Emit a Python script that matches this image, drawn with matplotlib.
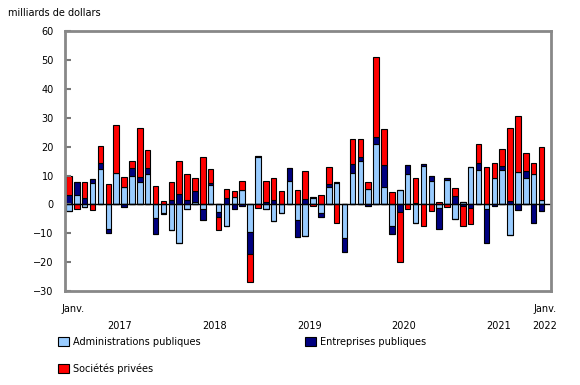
import numpy as np
import matplotlib.pyplot as plt
from matplotlib.patches import Patch

# monthly values, Jan 2017 to Jan 2022 (billions of dollars)
admin = [-2.2, 3.4, -0.8, 7.4, 12.4, -8.4, 10.8, 6.0, 9.8, 7.7, 10.4,
         -4.6, -2.8, -8.9, -13.5, -1.7, 0.9, -1.5, 6.7, -2.7, -7.5,
         2.7, 5.1, -9.4, 16.6, -1.6, -5.7, -3.0, 8.2, -5.5, -10.9,
         2.2, -2.8, 6.2, 7.4, -11.7, 10.9, 14.9, 5.3, 20.8, 6.1,
         -7.5, 4.9, 10.7, -6.6, 13.3, 8.1, -1.2, 8.3, -4.9, 0.9,
         13.1, 11.8, -1.5, 9.2, 11.8, -10.6, 11.3, 9.2, 10.4, 1.6]
entreprises = [3.1, 4.3, 2.2, 1.4, 2.0, -1.4, 0.0, -0.9, 2.9, 1.9, 2.1,
               -5.8, -0.5, 1.4, 3.7, 1.7, 3.9, -3.9, 0.8, -1.5, 2.4,
               -1.6, -0.4, -7.7, 0.3, 0.8, 1.6, 0.0, 4.4, -5.7, 2.0,
               0.3, -1.7, 0.9, 0.2, -4.9, 3.2, 1.6, -0.7, 2.7, 7.5,
               -2.9, -2.5, 3.1, 0.5, 0.8, 1.7, -7.3, 0.7, 2.8, -0.7,
               -1.4, 2.7, -12.0, -0.7, 1.5, 1.2, -1.8, 2.5, -6.6, -2.3]
privees = [6.9, -1.5, 5.4, -1.8, 5.8, 7.2, 16.7, 3.4, 2.4, 17.0, 6.2,
           6.4, 1.3, 6.4, 11.3, 8.9, 4.2, 16.5, 4.9, -4.7, 3.0,
           1.9, 3.1, -9.9, -1.2, 7.2, 7.6, 4.7, 0.0, 5.0, 9.6,
           -0.6, 3.4, 5.8, -6.5, 0.2, 8.7, 6.2, 2.3, 27.4, 12.5,
           4.3, -17.3, -1.7, 8.6, -7.3, -2.3, 0.9, -0.8, 2.9, -6.6,
           -5.5, 6.4, 12.9, 5.0, 6.0, 25.4, 19.5, 6.1, 4.0, 18.4]

series = [admin, entreprises, privees]
names = ['Administrations publiques', 'Entreprises publiques', 'Sociétés privées']
colors = ['#99CCFF', '#000080', '#FF0000']

year_labels = ['2017', '2018', '2019', '2020', '2021']
year_pos = [6.5, 18.5, 30.5, 42.5, 54.5]

plt.rcParams['font.family'] = 'DejaVu Sans'
plt.rcParams['font.size'] = 7

fig = plt.figure(figsize=(5.8, 3.85), dpi=100)
ax = fig.add_axes([0.112, 0.244, 0.838, 0.675])

x = np.arange(len(admin))
pos_bottom = np.zeros(len(x))
neg_bottom = np.zeros(len(x))
for vals, c in zip(series, colors):
    v = np.array(vals)
    pos = np.where(v > 0, v, 0)
    neg = np.where(v < 0, v, 0)
    ax.bar(x, pos, 0.7, bottom=pos_bottom, color=c, edgecolor='black', linewidth=0.8)
    ax.bar(x, neg, 0.7, bottom=neg_bottom, color=c, edgecolor='black', linewidth=0.8)
    pos_bottom += pos
    neg_bottom += neg

ax.axhline(0, color='black', linewidth=1)

ax.set_ylim(-30, 60)
ax.set_yticks(range(-30, 61, 10))
ax.set_xlim(-0.5, 61.2)
ax.set_xticks([])
ax.tick_params(axis='y', direction='in', length=4, color='#777777', width=1.5, pad=8)
for s in ax.spines.values():
    s.set_color('#888888')
    s.set_linewidth(2)

# x labels
tr = ax.get_xaxis_transform()
ax.text(0.5, -0.05, 'Janv.', transform=tr, ha='center', va='top')
for p, lab in zip(year_pos, year_labels):
    ax.text(p, -0.115, lab, transform=tr, ha='center', va='top')
ax.text(60.4, -0.05, 'Janv.', transform=tr, ha='center', va='top')
ax.text(60.4, -0.115, '2022', transform=tr, ha='center', va='top')

fig.text(0.014, 0.965, 'milliards de dollars', ha='left', va='center')

# legend fills column by column: admin, privees | entreprises
order = [0, 2, 1]
handles = [Patch(facecolor=colors[i], edgecolor='black', linewidth=0.8) for i in order]
labels = [names[i] for i in order]
fig.legend(handles, labels, loc='upper left', bbox_to_anchor=(0.1, 0.125), ncol=2,
           frameon=False, handlelength=1.1, handleheight=1.1, handletextpad=0.4,
           columnspacing=10.8, labelspacing=1.7, borderaxespad=0, borderpad=0)

plt.savefig('out.png', dpi=100)
